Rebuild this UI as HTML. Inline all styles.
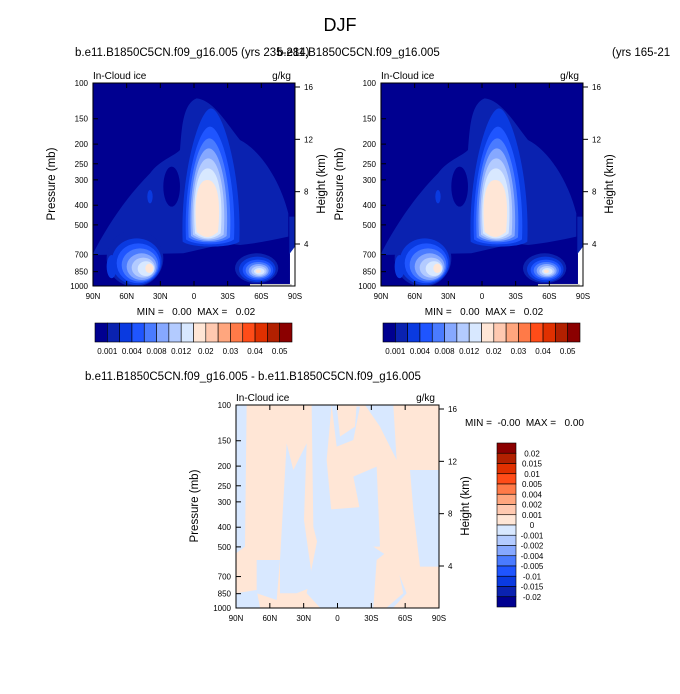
<!DOCTYPE html>
<html><head><meta charset="utf-8">
<style>
html,body{margin:0;padding:0;background:#fff;}
svg{display:block;font-family:"Liberation Sans",sans-serif;}
text{white-space:pre;}
</style></head>
<body>
<svg id="fig" width="680" height="694" viewBox="0 0 680 694" xmlns="http://www.w3.org/2000/svg">
<rect width="680" height="694" fill="#fff"/>
<text x="340" y="31" font-size="18" text-anchor="middle">DJF</text>
<text x="75" y="56" font-size="11.5">b.e11.B1850C5CN.f09_g16.005 (yrs 235-284)</text>
<text x="277" y="56" font-size="11.5">b.e11.B1850C5CN.f09_g16.005</text>
<text x="612" y="56" font-size="11.5">(yrs 165-21</text>
<text x="85" y="380" font-size="11.5">b.e11.B1850C5CN.f09_g16.005 - b.e11.B1850C5CN.f09_g16.005</text>
<defs>
<clipPath id="cpTop"><rect x="157" y="128" width="608" height="610"/></clipPath>
<clipPath id="cpBot"><rect x="168" y="135" width="610" height="608"/></clipPath>
</defs>
<g id="fields"></g>
<g id="axes"></g>
</svg>
<script>
const lats=["90N","60N","30N","0","30S","60S","90S"];
const pLevels=[100,150,200,250,300,400,500,700,850,1000];
const hTicks=[16,12,8,4];
const cbLevels=["0.001","0.002","0.004","0.006","0.008","0.01","0.012","0.015","0.02","0.025","0.03","0.035","0.04","0.045","0.05"];
const cbLabeled=["0.001","0.004","0.008","0.012","0.02","0.03","0.04","0.05"];
const cbColors=["#000090","#0a22b0","#0a3ae0","#1f55ff","#4a7bff","#86a8ff","#b3cbff","#d8e8ff","#ffe6d6","#ffc9b0","#ffa67e","#ff7a48","#ff4c18","#e03000","#b22000","#8b0000"];
const dLevels=["0.02","0.015","0.01","0.005","0.004","0.002","0.001","0","-0.001","-0.002","-0.004","-0.005","-0.01","-0.015","-0.02"];
const dColors=["#8b0000","#b22000","#e03000","#ff4c18","#ff7a48","#ffa67e","#ffc9b0","#ffe6d6","#d8e8ff","#b3cbff","#86a8ff","#4a7bff","#1f55ff","#0a3ae0","#0a22b0","#000090"];
const NS="http://www.w3.org/2000/svg";
function el(t,a,p){const e=document.createElementNS(NS,t);for(const k in a)e.setAttribute(k,a[k]);p.appendChild(e);return e;}
const fields=document.getElementById('fields'),axes=document.getElementById('axes');

function topField(dx,name){
  const g=el('g',{transform:`translate(${40+dx},40) scale(0.3333)`},fields);
  
  
  const c=el('g',{'clip-path':'url(#cpTop)'},g);
  const C=cbColors;
  el('rect',{x:157,y:128,width:608,height:610,fill:C[0]},c);
  el('path',{d:"M157,645 C200,560 260,470 330,400 C360,360 400,350 420,330 C425,260 430,190 470,175 C520,180 560,250 600,300 C660,330 720,420 745,520 L745,590 C700,600 650,610 600,615 L560,610 L430,640 Z",fill:C[1]},c);
  el('ellipse',{cx:395,cy:440,rx:25,ry:60,fill:C[0]},c);
  el('ellipse',{cx:330,cy:470,rx:8,ry:20,fill:C[2]},c);
  el('rect',{x:748,y:530,width:20,height:110,fill:C[1]},c);
  const col=[[428,605,598,205,C[2]],[438,598,582,260,C[3]],[446,592,570,295,C[4]],[453,588,560,325,C[5]],[459,584,551,355,C[6]],[465,580,542,385,C[7]],[470,576,534,420,C[8]]];
  col.forEach(([x1,yb,x2,yt,f])=>{const m=(x1+x2)/2;el('path',{d:`M${x1},${yb} C${x1-8},${(yb+yt)/2} ${m-35},${yt} ${m},${yt} C${m+35},${yt} ${x2+8},${(yb+yt)/2} ${x2},${yb} C${x2-25},${yb+20} ${x1+25},${yb+20} ${x1},${yb} Z`,fill:f},c);});
  [[285,655,85,85,C[1]],[290,665,75,70,C[2]],[295,670,65,60,C[3]],[300,675,55,50,C[4]],[305,680,45,40,C[5]],[310,683,35,30,C[6]],[318,686,25,22,C[7]],[328,685,12,14,C[8]]].forEach(([cx,cy,rx,ry,f])=>el('ellipse',{cx,cy,rx,ry,fill:f},c));
  el('ellipse',{cx:215,cy:680,rx:15,ry:35,fill:C[2]},c);
  [[650,685,65,45,C[1]],[652,688,55,38,C[2]],[654,690,46,31,C[3]],[655,691,38,25,C[4]],[656,692,30,20,C[5]],[657,693,23,15,C[6]],[658,694,16,10,C[7]],[655,694,8,5,C[8]]].forEach(([cx,cy,rx,ry,f])=>el('ellipse',{cx,cy,rx,ry,fill:f},c));
  el('path',{d:"M750,738 L750,640 L765,620 L765,738 Z",fill:"#fff"},c);
  el('rect',{x:630,y:732,width:125,height:6,fill:"#c8c8c8"},c);
}
topField(0,'left-contour-field');
topField(288,'right-contour-field');

(function(){
  const g=el('g',{transform:'translate(180,360) scale(0.3333)'},fields);
  
  
  const c=el('g',{'clip-path':'url(#cpBot)'},g);
  const B="#d8e8ff";
  el('rect',{x:168,y:135,width:610,height:608,fill:"#ffe6d6"},c);
  const polys=["168,135 200,135 195,560 168,580","300,600 320,250 340,330 380,250 372,480 400,680 350,700 300,700",
  "395,135 455,135 440,300 460,520 430,620 400,500","430,450 560,440 580,560 640,600 680,700 640,743 420,743 380,700",
  "520,350 590,320 600,560 560,560 540,450","555,135 640,135 650,300 600,200","690,330 778,330 778,620 720,620 700,450",
  "230,600 300,600 290,720 230,700","168,700 230,690 240,743 168,743","455,135 540,140 520,240 470,260"];
  polys.forEach(p=>el('polygon',{points:p,fill:B},c));
  el('polygon',{points:"470,135 530,135 525,200 480,230",fill:"#ffe6d6"},c);
  el('polygon',{points:"590,600 640,560 670,700 620,743 580,743",fill:"#ffe6d6"},c);
})();

function yP(top,p){return top+Math.log10(p/100)*203;}
function xL(left,w,i){return left+i*w/6;}
function yH(top,h){return top+4+(16-h)/12*157;}
function panel(left,top,w,name,topText){
  const g=el('g',{},axes);
  
  
  el('rect',{x:left,y:top,width:w,height:203,fill:'none',stroke:'#000','stroke-width':1},g);
  lats.forEach((l,i)=>{const x=xL(left,w,i);
    el('line',{x1:x,y1:top+203,x2:x,y2:top+198,stroke:'#000'},g);
    el('line',{x1:x,y1:top,x2:x,y2:top+5,stroke:'#000'},g);
    const t=el('text',{x:x,y:top+216,'font-size':8,'text-anchor':'middle'},g);t.textContent=l;});
  pLevels.forEach(p=>{const y=yP(top,p);
    el('line',{x1:left,y1:y,x2:left+5,y2:y,stroke:'#000'},g);
    const t=el('text',{x:left-5,y:y+3,'font-size':8,'text-anchor':'end'},g);t.textContent=p;});
  hTicks.forEach(h=>{const y=yH(top,h);
    el('line',{x1:left+w,y1:y,x2:left+w+5,y2:y,stroke:'#000'},g);
    const t=el('text',{x:left+w+9,y:y+3,'font-size':8},g);t.textContent=h;});
  let t=el('text',{x:left-38,y:top+101,'font-size':11.5,'text-anchor':'middle',transform:`rotate(-90 ${left-38} ${top+101})`},g);t.textContent='Pressure (mb)';
  
  t=el('text',{x:left+w+30,y:top+101,'font-size':11.5,'text-anchor':'middle',transform:`rotate(-90 ${left+w+30} ${top+101})`},g);t.textContent='Height (km)';
  
  t=el('text',{x:left,y:top-4,'font-size':10},g);t.textContent='In-Cloud ice';
  t=el('text',{x:left+w-4,y:top-4,'font-size':10,'text-anchor':'end'},g);t.textContent='g/kg';
  if(topText){t=el('text',{x:left+w/2+2,y:top+232,'font-size':10,'text-anchor':'middle'},g);t.textContent='MIN =   0.00  MAX =   0.02';}
}
panel(93,83,202,'left-panel-axes',true);
panel(381,83,202,'right-panel-axes',true);
panel(236,405,203,'diff-panel-axes',false);
(function(){const t=el('text',{x:465,y:426,'font-size':10},axes);t.textContent='MIN =  -0.00  MAX =   0.00';})();

function hbar(left,name){
  const g=el('g',{},axes);
  
  
  const bw=197/cbColors.length;
  cbColors.forEach((c,i)=>{const r=el('rect',{x:left+i*bw,y:323,width:bw,height:19,fill:c,stroke:'#000','stroke-width':0.6},g);
    });
  cbLevels.forEach((l,i)=>{if(cbLabeled.includes(l)){const t=el('text',{x:left+(i+1)*bw,y:354,'font-size':8,'text-anchor':'middle'},g);t.textContent=l;}});
}
hbar(95,'left-colorbar');hbar(383,'right-colorbar');
(function(){
  const g=el('g',{},axes);
  
  
  const top=443,bh=164/dColors.length;
  dColors.forEach((c,i)=>{const r=el('rect',{x:497,y:top+i*bh,width:19,height:bh,fill:c,stroke:'#000','stroke-width':0.6},g);
    });
  dLevels.forEach((l,i)=>{const t=el('text',{x:532,y:top+(i+1)*bh+3,'font-size':8,'text-anchor':'middle'},g);t.textContent=l;});
})();
</script>
</body></html>
